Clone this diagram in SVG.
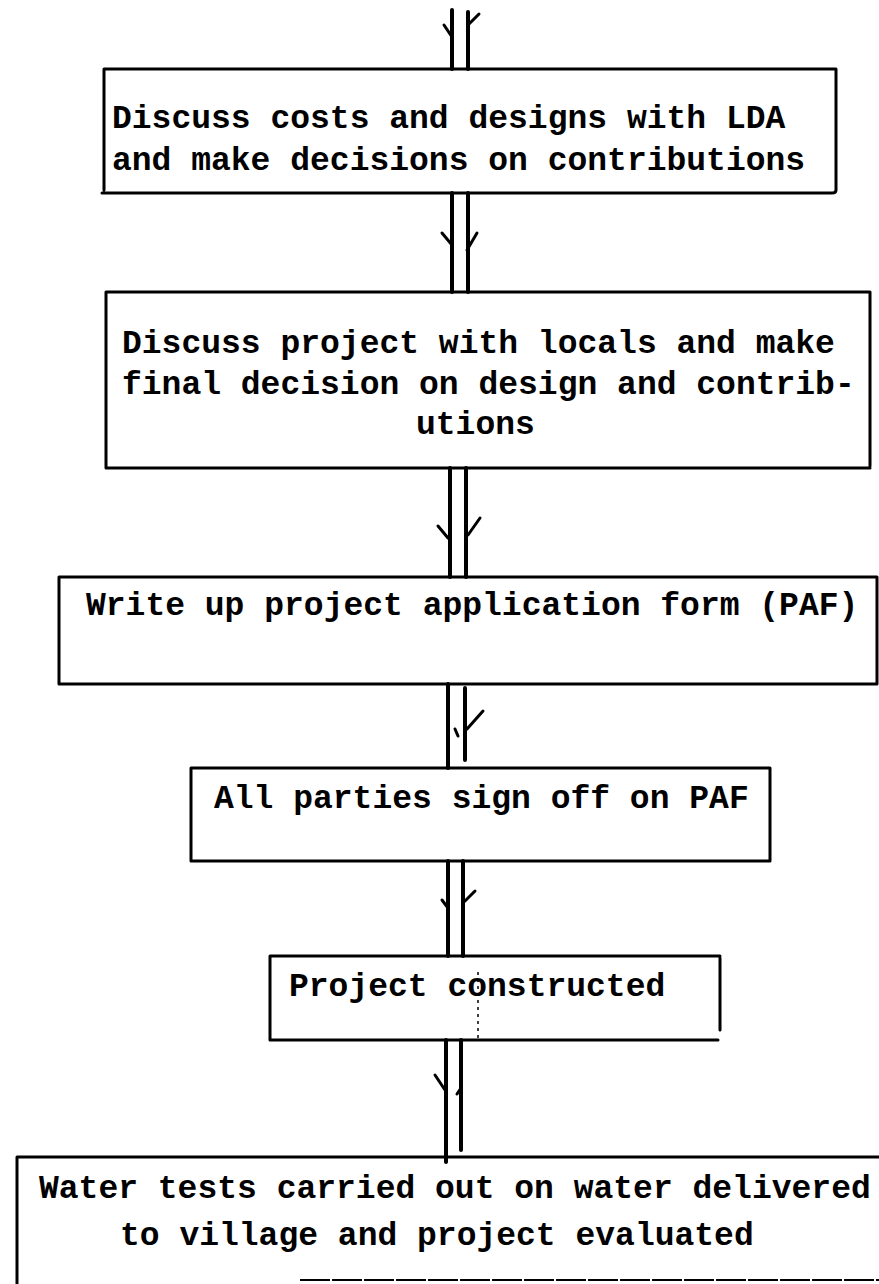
<svg xmlns="http://www.w3.org/2000/svg" width="879" height="1284" viewBox="0 0 879 1284">
  <style>
    .edge { fill: none; stroke: #000; stroke-width: 3; stroke-linecap: round; stroke-linejoin: round; }
    .shaft { fill: none; stroke: #000; stroke-width: 4; stroke-linecap: round; }
    .barb { fill: none; stroke: #000; stroke-width: 3; stroke-linecap: round; }
    .label { font-family: "Liberation Mono", "Courier New", monospace; font-size: 33px; font-weight: bold; fill: #000; }
  </style>
  <rect width="879" height="1284" fill="#fff"/>

  <!-- double-shafted downward arrows between the steps -->
  <g id="connectors">
    <g id="arrow-in">
      <path class="shaft" d="M452 10 V69 M468 12 V69"/>
      <path class="barb" d="M444 25 L452 37 M479 14 L469 24"/>
    </g>
    <g id="arrow-1-2">
      <path class="shaft" d="M452 193 V292 M468 193 V292"/>
      <path class="barb" d="M442 233 L452 245 M477 233 L467 250"/>
    </g>
    <g id="arrow-2-3">
      <path class="shaft" d="M450 468 V577 M466 468 V577"/>
      <path class="barb" d="M438 526 L448 538 M480 518 L468 535"/>
    </g>
    <g id="arrow-3-4">
      <path class="shaft" d="M448 684 V768 M465 688 V760"/>
      <path class="barb" d="M483 711 L467 729 M455 729 L458 736"/>
    </g>
    <g id="arrow-4-5">
      <path class="shaft" d="M448 861 V956 M463 861 V956"/>
      <path class="barb" d="M442 900 L448 908 M475 891 L465 901"/>
    </g>
    <g id="arrow-5-6">
      <path class="shaft" d="M446 1040 V1162 M461 1040 V1150"/>
      <path class="barb" d="M435 1075 L445 1090 M457 1094 L461 1088"/>
    </g>
  </g>

  <g id="step-1">
    <path class="edge" d="M104 69 H836 V190 Q836 193 832 193 H102 M104 69 V190"/>
    <text class="label" x="112" y="128">Discuss costs and designs with LDA</text>
    <text class="label" x="112" y="170">and make decisions on contributions</text>
  </g>

  <g id="step-2">
    <path class="edge" d="M106 292 H870 V466 M106 292 V468 H870"/>
    <text class="label" x="122" y="353">Discuss project with locals and make</text>
    <text class="label" x="122" y="394">final decision on design and contrib-</text>
    <text class="label" x="416" y="434">utions</text>
  </g>

  <g id="step-3">
    <path class="edge" d="M59 577 H877 V684 H59 Z"/>
    <text class="label" x="86" y="615">Write up project application form (PAF)</text>
  </g>

  <g id="step-4">
    <path class="edge" d="M191 768 H770 V861 H191 Z"/>
    <text class="label" x="214" y="808">All parties sign off on PAF</text>
  </g>

  <g id="step-5">
    <path class="edge" d="M270 956 H720 M270 956 V1040 H718 M720 958 V1030"/>
    <path d="M478 972 V1038" fill="none" stroke="#000" stroke-width="1.5" stroke-dasharray="3 4"/>
    <text class="label" x="289" y="996">Project constructed</text>
  </g>

  <g id="step-6">
    <path class="edge" d="M17 1157 H879 M17 1157 V1284"/>
    <path d="M300 1280 H879" fill="none" stroke="#000" stroke-width="2" stroke-dasharray="30 2"/>
    <text class="label" x="39" y="1198">Water tests carried out on water delivered</text>
    <text class="label" x="120" y="1245">to village and project evaluated</text>
  </g>
</svg>
